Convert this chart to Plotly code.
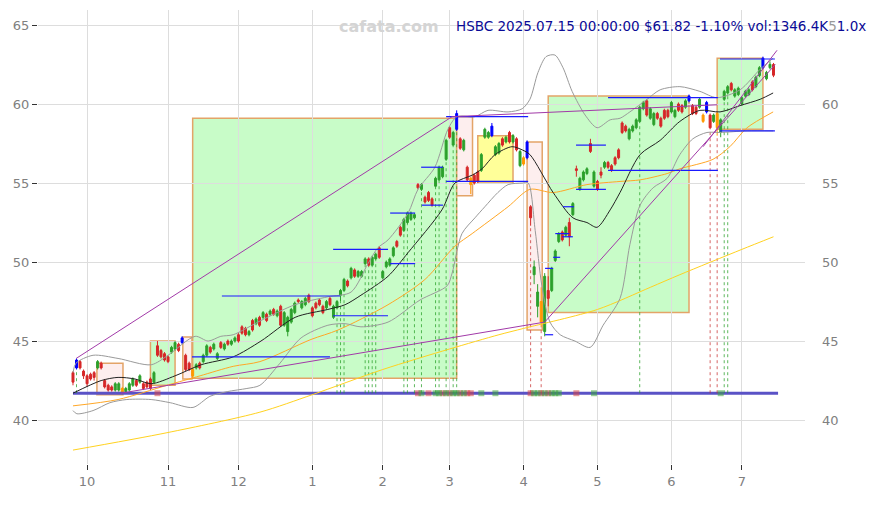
import plotly.graph_objects as go

# ---------------- data (trading-day index 0 = 2024-09-25 ... 199 = 2025-07-15) ----------------
month_ticks = [4, 27, 47, 68, 88, 107, 128, 149, 170, 190]
month_labels = ['10', '11', '12', '1', '2', '3', '4', '5', '6', '7']

opens = [43.0, 43.3, 43.7, 43.1, 42.8, 42.9, 43.0, 43.3, 43.6, 42.5,
         42.2, 42.1, 41.9, 41.9, 42.0, 41.8, 41.9, 42.2, 42.5, 42.4,
         42.3, 42.4, 42.6, 42.4, 44.7, 44.4, 44.2, 44.0, 44.3, 44.5,
         44.8, 44.9, 44.1, 43.6, 43.2, 43.3, 43.6, 43.7, 44.1, 44.6,
         44.5, 43.9, 44.9, 44.5, 45.0, 44.8, 45.0, 45.4, 45.9, 45.8,
         45.4, 46.3, 46.1, 46.5, 46.5, 46.7, 46.7, 47.0, 46.6, 47.2,
         46.0, 45.6, 46.2, 46.8, 47.6, 47.1, 47.3, 47.9, 47.1, 47.4,
         47.6, 47.2, 47.1, 47.7, 46.5, 47.1, 47.9, 48.2, 48.8, 49.0,
         49.5, 49.1, 49.1, 49.9, 50.2, 49.8, 50.2, 50.9, 49.0, 49.7,
         49.8, 50.4, 51.3, 52.2, 52.0, 52.5, 52.7, 52.8, 54.9, 54.6,
         54.1, 54.4, 54.0, 54.8, 55.2, 55.4, 56.5, 58.5, 57.4, 58.4,
         57.8, 57.1, 56.0, 55.3, 55.5, 55.7, 55.8, 57.9, 57.9, 58.0,
         56.8, 56.9, 57.8, 57.6, 58.2, 57.6, 57.8, 56.1, 56.6, 56.6,
         53.5, 49.2, 47.2, 47.5, 45.6, 48.2, 48.2, 50.1, 51.3, 51.9,
         51.7, 52.5, 53.0, 55.9, 54.6, 55.2, 55.6, 57.5, 54.8, 55.1,
         55.7, 56.0, 56.3, 56.1, 56.6, 57.1, 58.8, 58.6, 57.8, 58.3,
         58.5, 58.9, 59.7, 60.2, 59.1, 58.7, 59.4, 59.1, 59.6, 59.6,
         59.5, 59.2, 60.0, 59.9, 59.8, 60.2, 59.9, 59.8, 59.8, 59.3,
         59.5, 59.3, 58.9, 59.4, 58.2, 60.3, 60.7, 61.3, 60.5, 60.6,
         60.0, 60.5, 60.6, 61.4, 61.1, 61.8, 62.3, 61.6, 62.3, 62.5]
closes = [42.4, 43.8, 43.3, 42.8, 42.3, 42.6, 42.7, 43.7, 43.3, 42.1,
          41.9, 41.9, 42.3, 42.3, 41.7, 42.0, 42.3, 42.6, 42.2, 42.8,
          42.0, 42.1, 42.0, 43.0, 44.1, 44.0, 43.8, 43.7, 44.6, 44.9,
          44.4, 45.2, 43.2, 43.2, 42.8, 43.5, 43.3, 44.1, 44.7, 44.3,
          44.8, 44.2, 44.6, 44.8, 44.8, 45.0, 45.2, 45.0, 45.5, 45.4,
          45.6, 45.7, 46.4, 46.0, 46.8, 46.3, 46.9, 46.7, 46.9, 46.0,
          46.8, 46.5, 47.0, 47.4, 47.5, 47.5, 47.7, 47.5, 46.6, 47.1,
          47.3, 46.8, 47.5, 47.3, 47.2, 47.5, 48.2, 48.9, 48.5, 49.6,
          49.1, 49.4, 49.4, 50.2, 49.8, 50.3, 50.5, 50.3, 49.4, 50.0,
          50.2, 50.9, 51.0, 51.7, 52.7, 53.1, 53.1, 53.0, 54.7, 54.9,
          53.8, 53.9, 53.6, 55.3, 56.0, 56.0, 57.7, 57.9, 58.2, 59.4,
          57.2, 57.7, 55.2, 54.9, 55.0, 55.1, 56.8, 58.4, 58.2, 58.6,
          57.3, 57.5, 57.4, 57.9, 57.6, 58.0, 57.1, 57.0, 56.2, 57.6,
          52.8, 49.7, 48.1, 46.2, 49.1, 47.7, 49.6, 50.7, 51.8, 51.4,
          52.2, 51.6, 53.7, 55.8, 55.3, 55.7, 55.9, 57.0, 55.7, 54.6,
          55.5, 56.3, 56.0, 55.8, 56.2, 56.6, 58.2, 58.3, 58.4, 58.6,
          59.0, 59.8, 60.1, 59.3, 59.7, 59.4, 59.1, 58.6, 59.1, 59.2,
          60.1, 59.6, 59.6, 59.5, 60.2, 60.5, 59.4, 59.4, 60.3, 58.9,
          60.1, 58.5, 59.3, 58.5, 59.0, 60.8, 61.1, 60.9, 60.9, 61.0,
          60.4, 60.8, 60.9, 60.9, 61.7, 62.3, 62.9, 62.0, 62.51, 61.82]
highs = [43.1, 43.9, 43.8, 43.2, 42.9, 43.0, 43.1, 43.8, 43.7, 42.6,
         42.3, 42.2, 42.4, 42.4, 42.1, 42.1, 42.4, 42.7, 42.6, 42.9,
         42.4, 42.5, 42.7, 43.1, 45.0, 44.5, 44.3, 44.1, 44.7, 45.0,
         44.9, 45.3, 44.2, 43.7, 43.3, 43.6, 43.7, 44.2, 44.8, 44.7,
         44.9, 44.3, 45.0, 44.9, 45.1, 45.1, 45.3, 45.5, 46.0, 45.9,
         45.7, 46.4, 46.5, 46.6, 46.9, 46.8, 47.0, 47.1, 47.0, 47.3,
         46.9, 46.6, 47.1, 47.5, 47.7, 47.6, 47.8, 48.0, 47.2, 47.5,
         47.7, 47.3, 47.6, 47.8, 47.3, 47.6, 48.3, 49.0, 48.9, 49.7,
         49.6, 49.5, 49.5, 50.3, 50.3, 50.4, 50.6, 51.0, 49.5, 50.1,
         50.3, 51.0, 51.4, 52.3, 52.8, 53.2, 53.2, 53.1, 55.0, 55.0,
         54.2, 54.5, 54.1, 55.4, 56.1, 56.1, 57.8, 58.6, 58.3, 59.6,
         57.9, 57.8, 56.1, 55.4, 55.6, 55.8, 56.9, 58.5, 58.3, 58.8,
         57.4, 57.6, 57.9, 58.0, 58.3, 58.1, 57.9, 57.1, 56.7, 57.7,
         53.6, 50.1, 48.6, 48.4, 49.3, 49.1, 49.7, 50.8, 51.9, 52.0,
         52.3, 52.8, 53.8, 56.1, 55.4, 55.8, 56.0, 57.8, 55.8, 55.2,
         56.0, 56.4, 56.4, 56.2, 56.7, 57.2, 58.9, 58.7, 58.5, 58.7,
         59.1, 59.9, 60.2, 60.3, 59.8, 59.5, 59.5, 59.2, 59.7, 59.7,
         60.2, 59.7, 60.1, 60.0, 60.3, 60.6, 60.0, 59.9, 60.4, 59.4,
         60.2, 59.4, 59.4, 59.5, 59.1, 60.9, 61.2, 61.4, 61.0, 61.1,
         60.5, 60.9, 61.0, 61.5, 61.8, 62.4, 63.0, 62.1, 62.7, 62.6]
lows = [42.2, 43.2, 43.2, 42.6, 42.1, 42.5, 42.5, 43.2, 43.2, 42.0,
        41.8, 41.8, 41.8, 41.8, 41.6, 41.7, 41.8, 42.1, 42.1, 42.3,
        41.9, 42.0, 41.9, 42.3, 44.0, 43.9, 43.7, 43.6, 44.2, 44.4,
        44.3, 44.8, 43.1, 43.1, 42.6, 43.2, 43.2, 43.6, 44.0, 44.2,
        44.4, 43.8, 44.5, 44.4, 44.7, 44.7, 44.9, 44.9, 45.4, 45.3,
        45.3, 45.6, 46.0, 45.9, 46.4, 46.2, 46.6, 46.6, 46.5, 45.9,
        45.9, 45.3, 46.1, 46.7, 47.4, 47.0, 47.2, 47.4, 46.5, 47.0,
        47.2, 46.7, 47.0, 47.2, 46.4, 47.0, 47.5, 48.1, 48.4, 48.9,
        49.0, 49.0, 49.0, 49.8, 49.7, 49.7, 50.1, 50.2, 48.9, 49.6,
        49.7, 50.3, 50.9, 51.6, 51.9, 52.4, 52.6, 52.7, 54.6, 54.5,
        53.7, 53.8, 53.5, 54.7, 55.1, 55.3, 56.4, 57.8, 57.3, 58.3,
        57.1, 57.0, 55.1, 54.3, 54.9, 55.0, 55.7, 57.8, 57.8, 57.9,
        56.7, 56.8, 57.3, 57.5, 57.5, 57.5, 57.0, 56.0, 56.1, 56.5,
        52.3, 48.6, 46.5, 45.9, 45.3, 47.2, 48.1, 50.0, 51.2, 51.3,
        51.6, 51.0, 52.9, 55.4, 54.5, 55.1, 55.5, 56.9, 54.7, 54.5,
        55.3, 55.9, 55.9, 55.7, 56.1, 56.5, 58.1, 58.2, 57.7, 58.2,
        58.4, 58.8, 59.6, 59.2, 59.0, 58.6, 59.0, 58.5, 59.0, 59.1,
        59.4, 59.1, 59.5, 59.4, 59.7, 60.1, 59.3, 59.3, 59.7, 58.8,
        59.4, 58.4, 58.8, 58.0, 57.9, 60.2, 60.6, 60.8, 60.4, 60.5,
        59.9, 60.4, 60.5, 60.8, 61.0, 61.7, 62.2, 61.5, 62.2, 61.7]

blue_idx = [1, 31, 109, 119, 129, 175, 180, 196]
orange_idx = [14, 34, 113, 128, 133, 179, 183]

# moving averages / bands (index, price)
ma_black_i = [0, 8, 12.8, 17.6, 22.2, 29, 36.4, 45.5, 53.4, 63.1, 72.4, 77.3, 81.8, 89.5, 95.2,
              104.8, 108.5, 113.4, 116.2, 119.9, 124.7, 127.6, 129.8, 136.4, 142, 146, 148.9,
              152.6, 155.4, 161.1, 166.8, 172.4, 178.1, 183.8, 189.5, 195.2, 198.9]
ma_black_p = [41.7, 42.5, 42.7, 42.6, 42.3, 42.8, 43.5, 44.0, 45.0, 46.5, 47.0, 47.3, 47.9, 49.1, 50.6,
              53.3, 55.0, 55.5, 55.9, 56.8, 57.3, 57.1, 56.8, 54.4, 52.8, 52.5, 52.2,
              53.3, 54.4, 56.8, 57.7, 58.9, 59.6, 59.5, 59.9, 60.3, 60.7]
ma_orange_i = [0, 12.8, 26.7, 36.1, 45.5, 53.1, 67.6, 75.3, 89.5, 100, 108.5, 113.4, 123.6,
               129.8, 136.4, 146, 155.4, 161.1, 168.8, 172.4, 181.8, 186.6, 191.5, 198.9]
ma_orange_p = [40.9, 41.3, 42.2, 42.8, 43.4, 43.7, 45.1, 45.7, 47.3, 48.9, 51.0, 51.8, 53.5,
               54.6, 54.4, 54.9, 55.1, 55.2, 55.6, 55.9, 56.5, 57.3, 58.5, 59.5]
ma_yellow_i = [0, 26.7, 53.1, 67.9, 88, 107, 121, 128, 149, 164, 172.4, 190, 199]
ma_yellow_p = [38.1, 39.2, 40.5, 41.6, 43.2, 44.5, 45.4, 45.8, 47.0, 48.4, 49.2, 50.8, 51.6]
band_up_i = [0, 0.85, 5.7, 12.8, 22.2, 27, 34.7, 38.4, 42, 45.5, 53.4, 63.1, 72.4, 79, 83.8, 86.6,
             89.5, 95.2, 98, 102.8, 106.5, 109.1, 114.2, 117.9, 123.6, 127.6, 129.8, 132.1, 134.4,
             136.9, 139.2, 141.8, 145.5, 148.9, 152.6, 155.4, 158.2, 163.1, 166.8, 172.4, 178.1,
             182.9, 189.5, 195.2, 198.9]
band_up_p = [43.0, 43.6, 44.1, 43.9, 43.5, 44.1, 45.3, 45.0, 45.3, 45.4, 46.3, 47.3, 47.8, 48.1,
             49.9, 50.9, 51.4, 53.1, 54.6, 56.0, 58.4, 59.2, 59.2, 59.6, 59.5, 59.7, 60.3, 62.0,
             63.0, 63.1, 62.3, 60.8, 59.3, 58.5, 59.0, 59.1, 59.5, 60.3, 60.9, 61.1, 60.8, 60.4,
             60.9, 62.2, 62.9]
band_dn_i = [0, 1.1, 5.7, 10.5, 15.3, 22.2, 27.6, 34.1, 38.9, 43.8, 49.4, 53.1, 58.8, 64.8, 72.4,
             77.3, 81.8, 89.5, 98.6, 106.3, 107.7, 110.5, 114.2, 117, 120.7, 123.6, 127.6, 129.3,
             131.3, 133.2, 135.5, 138.4, 142.6, 146.9, 150.6, 155.4, 158.2, 161.1, 164.8, 168.8,
             172.4, 176.1, 180.1, 183.8, 191.5, 198.9]
band_dn_p = [40.6, 40.4, 40.6, 41.1, 41.3, 41.3, 41.1, 40.8, 41.5, 41.8, 42.0, 42.2, 43.6, 45.2,
             46.0, 46.1, 45.9, 46.2, 47.6, 48.5, 49.3, 51.8, 52.8, 53.5, 54.4, 54.9, 55.0, 55.0,
             52.0, 48.5, 46.2, 45.4, 45.0, 44.6, 46.0, 47.7, 51.1, 53.6, 54.7, 55.3, 56.8, 57.8,
             58.2, 58.2, 58.3, 58.3]

# consolidation boxes
box_i0 = [6.8, 22, 31.2, 34, 109, 115, 129, 135, 183]
box_i1 = [14.2, 29, 33.8, 109, 113.5, 125, 133.3, 175, 196]
box_lo = [41.6, 42.2, 42.6, 42.65, 54.2, 55.0, 45.7, 46.8, 58.4]
box_hi = [43.6, 45.0, 45.25, 59.1, 59.2, 58.0, 57.6, 60.5, 62.9]
box_kind = ['pink', 'green', 'pink', 'green', 'pink', 'yellow', 'pink', 'green', 'green']

# blue support / resistance segments
seg_i0 = [33.8, 42.3, 73.9, 73.9, 90.1, 90.1, 98.9, 99.1, 106, 106, 134.1, 134.1, 136.4, 137,
          139, 139.2, 142.9, 142.9, 152, 152, 183.8, 183.8]
seg_i1 = [73.0, 75.9, 89.5, 89.5, 97.2, 97.2, 105.1, 105.1, 129.3, 129.3, 136.4, 136.4, 138.4,
          141, 142, 142.3, 151.4, 151.4, 183.2, 183.2, 199.4, 199.4]
seg_p = [44.0, 47.85, 50.8, 46.6, 53.1, 49.9, 56.0, 53.6, 59.2, 55.1, 49.6, 45.4, 50.3, 51.8,
         51.6, 53.5, 57.4, 54.6, 60.4, 55.8, 62.85, 58.3]

# purple trend lines
pur_i0 = [0.9, 13.6, 107.7, 134, 179]
pur_p0 = [43.9, 41.7, 59.2, 46.2, 57.3]
pur_i1 = [107.7, 134, 183, 199.5, 200]
pur_p1 = [59.2, 46.2, 59.95, 62.5, 63.4]

baseline_price = 41.7
dot_green_idx = [1, 75, 76, 77, 83, 84, 85, 86, 94, 95, 97, 99, 103, 104, 106, 108, 109, 161, 185, 186]
dot_red_idx = [130, 133, 181, 183]
mk_red_idx = [24, 98, 101, 105, 107, 110, 112, 113, 130, 133, 135, 143]
mk_green_idx = [99, 103, 104, 106, 108, 109, 111, 116, 120, 131, 132, 134, 136, 137, 138, 148, 184]

title_main = 'HSBC 2025.07.15 00:00:00 $61.82 -1.10% vol:1346.4K'
title_ghost = '5'
title_tail = '1.0x'
watermark = 'cafata.com'

# ---------------- figure ----------------
N = len(closes)
GREEN = '#2ca02c'
RED = '#d62728'
BLUE = '#0000ff'
ORANGE = '#ff9900'
FONT = 'DejaVu Sans'

fig = go.Figure()

fills = {'pink': '#fdeeee', 'green': '#c8fcc8', 'yellow': '#ffff99'}
for a, b, lo, hi, k in zip(box_i0, box_i1, box_lo, box_hi, box_kind):
    fig.add_shape(type='rect', xref='x', yref='y', x0=a, x1=b, y0=lo, y1=hi,
                  fillcolor=fills[k], line=dict(color='#e3a468', width=1.5), layer='below')

# baseline
fig.add_trace(go.Scatter(x=[0, 200.3], y=[baseline_price, baseline_price], mode='lines',
                         line=dict(color='#5a52c6', width=3), hoverinfo='skip', showlegend=False))


def dotted(idx, color):
    xs, ys = [], []
    for i in idx:
        xs += [i, i, None]
        ys += [baseline_price, lows[i], None]
    fig.add_trace(go.Scatter(x=xs, y=ys, mode='lines', line=dict(color=color, width=1, dash='dot'),
                             hoverinfo='skip', showlegend=False))


dotted(dot_green_idx, 'rgba(40,160,40,0.75)')
dotted(dot_red_idx, 'rgba(200,50,50,0.75)')


def ma(xs, ys, color, width=1):
    fig.add_trace(go.Scatter(x=xs, y=ys, mode='lines',
                             line=dict(color=color, width=width, shape='spline', smoothing=0.8),
                             hoverinfo='skip', showlegend=False))


ma(ma_yellow_i, ma_yellow_p, '#ffd21f')
ma(ma_orange_i, ma_orange_p, '#ffa726')
ma(band_up_i, band_up_p, '#9a9a9a')
ma(band_dn_i, band_dn_p, '#9a9a9a')
ma(ma_black_i, ma_black_p, '#222222')

# blue segments
bx, by = [], []
for a, b, p in zip(seg_i0, seg_i1, seg_p):
    bx += [a, b, None]
    by += [p, p, None]
fig.add_trace(go.Scatter(x=bx, y=by, mode='lines', line=dict(color='#1a1aff', width=1.2),
                         hoverinfo='skip', showlegend=False))

# purple lines
px, py = [], []
for a, pa, b, pb in zip(pur_i0, pur_p0, pur_i1, pur_p1):
    px += [a, b, None]
    py += [pa, pb, None]
fig.add_trace(go.Scatter(x=px, y=py, mode='lines', line=dict(color='#a23aa8', width=1),
                         hoverinfo='skip', showlegend=False))

# candles
special = set(blue_idx) | set(orange_idx)
up_idx = [i for i in range(N) if i not in special and closes[i] >= opens[i]]
dn_idx = [i for i in range(N) if i not in special and closes[i] < opens[i]]


def candles(idx, color):
    c = dict(line=dict(color=color, width=1), fillcolor=color)
    fig.add_trace(go.Candlestick(x=idx, open=[opens[i] for i in idx], high=[highs[i] for i in idx],
                                 low=[lows[i] for i in idx], close=[closes[i] for i in idx],
                                 increasing=c, decreasing=c, whiskerwidth=0,
                                 hoverinfo='skip', showlegend=False))


candles(up_idx, GREEN)
candles(dn_idx, RED)
candles(blue_idx, BLUE)
candles(orange_idx, ORANGE)

# markers on baseline
fig.add_trace(go.Scatter(x=mk_red_idx, y=[baseline_price] * len(mk_red_idx), mode='markers',
                         marker=dict(symbol='square', size=6, color='rgba(215,70,70,0.55)'),
                         hoverinfo='skip', showlegend=False))
fig.add_trace(go.Scatter(x=mk_green_idx, y=[baseline_price] * len(mk_green_idx), mode='markers',
                         marker=dict(symbol='square', size=6, color='rgba(60,165,60,0.55)'),
                         hoverinfo='skip', showlegend=False))

# dummy for right axis
fig.add_trace(go.Scatter(x=[0], y=[50], yaxis='y2', mode='markers', marker=dict(opacity=0),
                         hoverinfo='skip', showlegend=False))

# the page body has an 8px margin: figure is 871x497 placed at (8,8)
# plot area in page pixels: x 38..805, y 10..464
yr = [37.22, 65.95]
xr = [-9.94, 207.95]
fig.update_layout(
    width=871, height=497, autosize=False,
    margin=dict(l=30, r=74, t=2, b=41),
    paper_bgcolor='white', plot_bgcolor='white',
    boxgap=0.2,
    font=dict(family=FONT, size=13, color='#808080'),
    xaxis=dict(range=xr, tickvals=month_ticks, ticktext=month_labels, showgrid=True,
               gridcolor='#dddddd', gridwidth=1, zeroline=False, showline=False,
               ticks='outside', ticklen=5, tickcolor='#333333', tickfont=dict(size=13, color='#808080'),
               rangeslider=dict(visible=False), fixedrange=True),
    yaxis=dict(range=yr, tickvals=[40, 45, 50, 55, 60, 65], showgrid=True, gridcolor='#dddddd',
               gridwidth=1, zeroline=False, showline=False, ticks='outside', ticklen=5,
               tickcolor='#333333', tickfont=dict(size=13, color='#808080')),
    yaxis2=dict(range=yr, overlaying='y', side='right', tickvals=[40, 45, 50, 55, 60],
                showgrid=False, zeroline=False, showline=False, ticks='',
                ticklabelstandoff=16, tickfont=dict(size=13, color='#808080')),
    showlegend=False,
)

PW, PH = 767, 454
ty = (464 - 26) / PH
fig.add_annotation(text='<b>' + watermark + '</b>', xref='paper', yref='paper',
                   x=(389 - 38) / PW, y=ty, xanchor='center', yanchor='middle',
                   showarrow=False, font=dict(family=FONT, size=16, color='#d4d4d4'))
fig.add_annotation(text=title_main + '<span style="color:#9a9a9a">' + title_ghost + '</span>' + title_tail,
                   xref='paper', yref='paper',
                   x=(868 - 38) / PW, y=ty, xanchor='right', yanchor='middle',
                   showarrow=False, font=dict(family=FONT, size=13.5, color='#0a0a96'))

fig.write_html('out.html')
